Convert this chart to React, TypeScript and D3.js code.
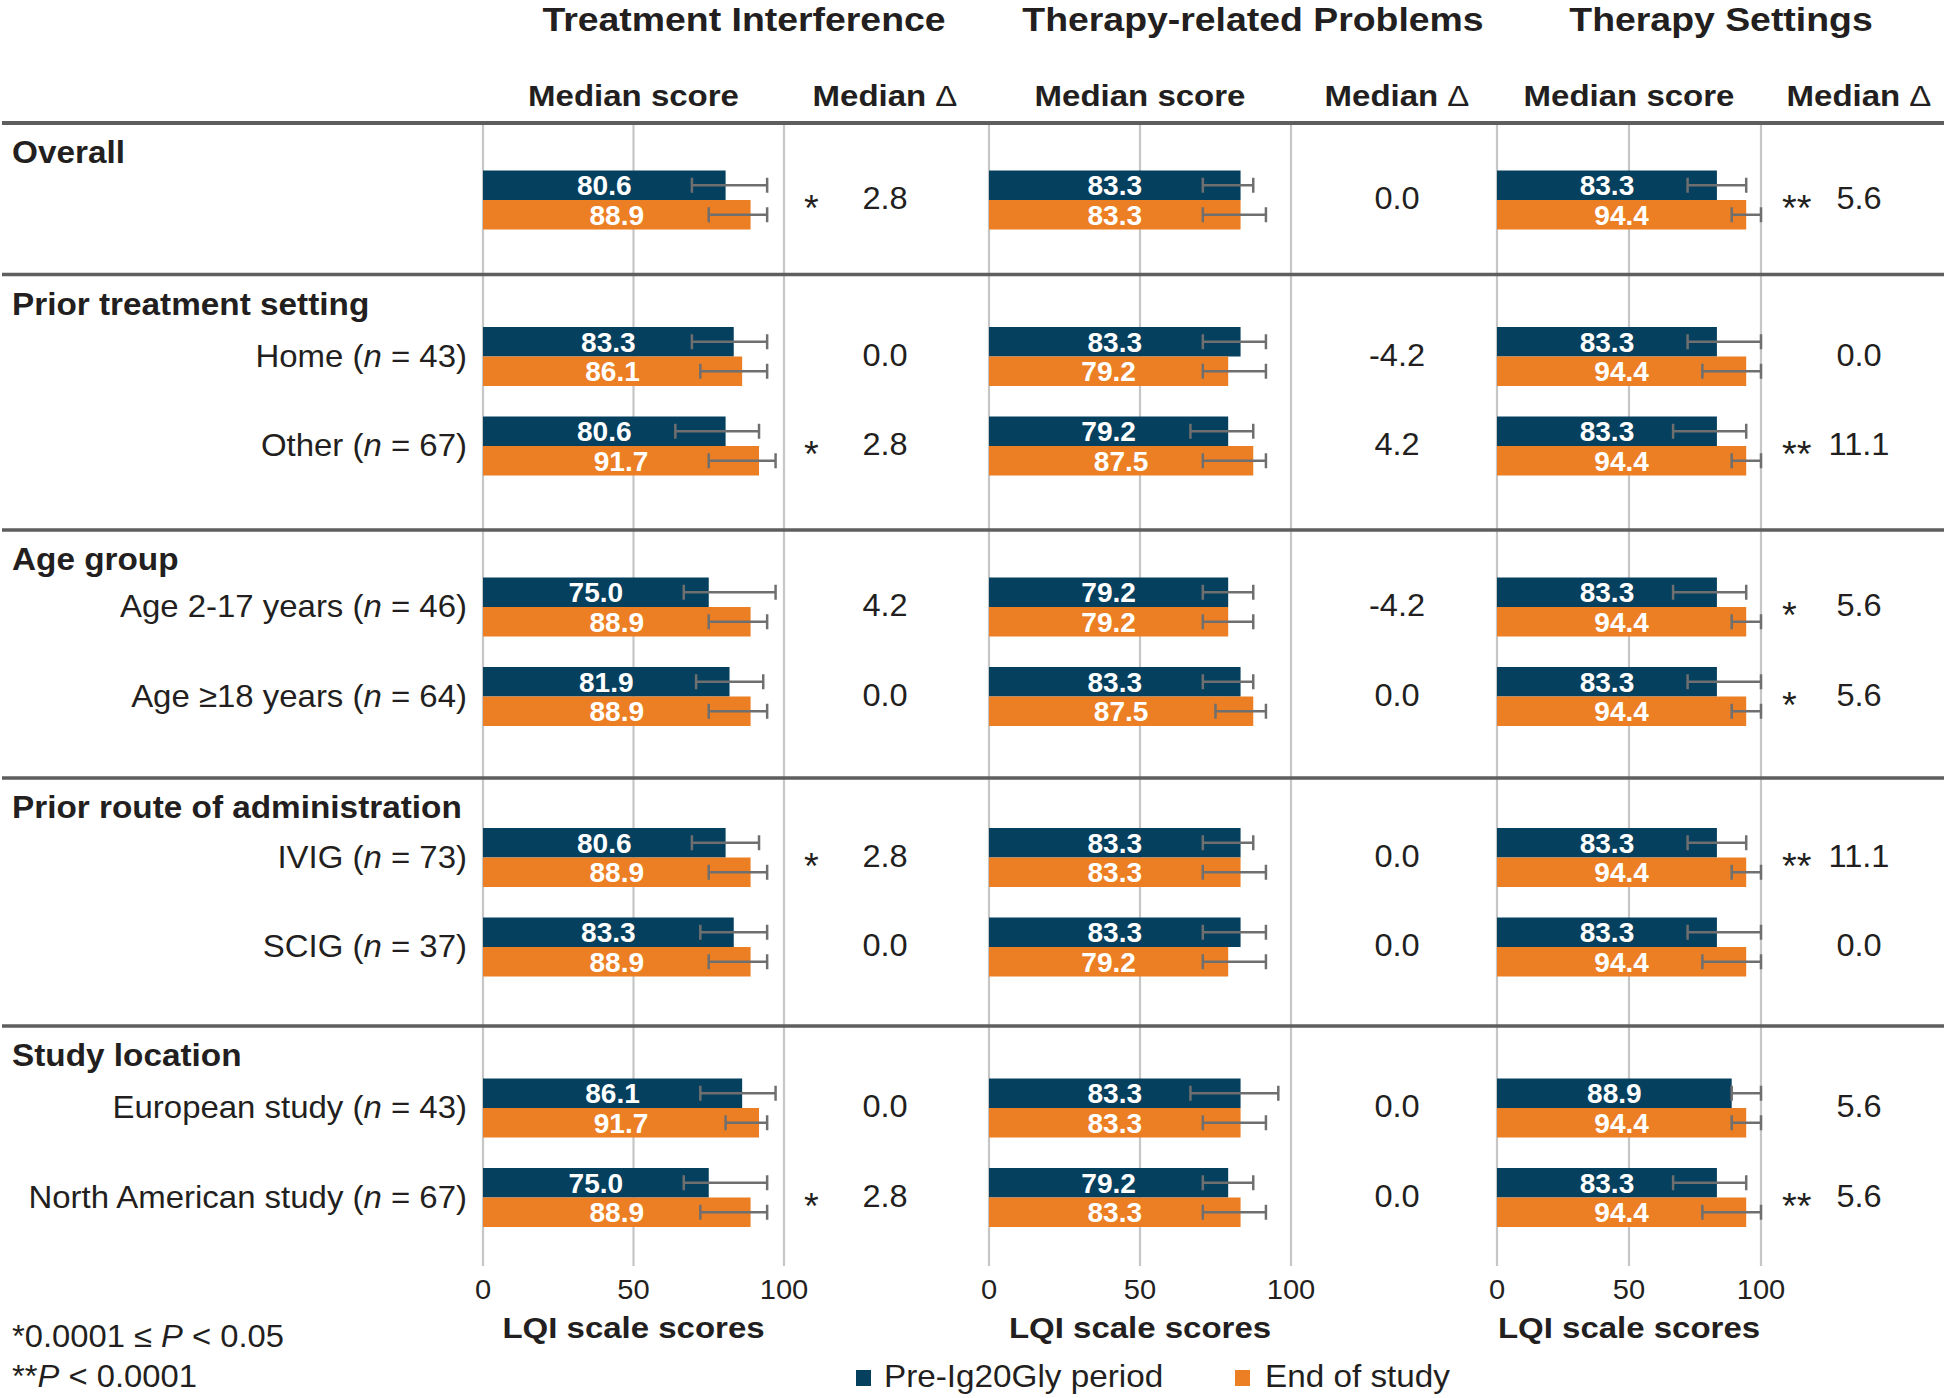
import React from "react";
import * as d3 from "d3";

// ---------- DATA ----------
const panelTitles = ["Treatment Interference", "Therapy-related Problems", "Therapy Settings"];
const groupLabels = ["Overall", "Prior treatment setting", "Age group", "Prior route of administration", "Study location"];
// each row: group index, label text, n
const rowGroup = [0, 1, 1, 2, 2, 3, 3, 4, 4];
const rowLabel = ["", "Home", "Other", "Age 2-17 years", "Age \u226518 years", "IVIG", "SCIG", "European study", "North American study"];
const rowN = [null, 43, 67, 46, 64, 73, 37, 43, 67];
const seriesNames = ["Pre-Ig20Gly period", "End of study"];
const ticks = [0, 50, 100];

// Treatment Interference
const tiPre = [80.6, 83.3, 80.6, 75.0, 81.9, 80.6, 83.3, 86.1, 75.0];
const tiEos = [88.9, 86.1, 91.7, 88.9, 88.9, 88.9, 88.9, 91.7, 88.9];
const tiPreQ1 = [69.4, 69.4, 63.9, 66.7, 70.8, 69.4, 72.2, 72.2, 66.7];
const tiPreQ3 = [94.4, 94.4, 91.7, 97.2, 93.1, 91.7, 94.4, 97.2, 94.4];
const tiEosQ1 = [75.0, 72.2, 75.0, 75.0, 75.0, 75.0, 75.0, 80.6, 72.2];
const tiEosQ3 = [94.4, 94.4, 97.2, 94.4, 94.4, 94.4, 94.4, 94.4, 94.4];
const tiDelta = ["2.8", "0.0", "2.8", "4.2", "0.0", "2.8", "0.0", "0.0", "2.8"];
const tiSig = ["*", "", "*", "", "", "*", "", "", "*"];

// Therapy-related Problems
const trpPre = [83.3, 83.3, 79.2, 79.2, 83.3, 83.3, 83.3, 83.3, 79.2];
const trpEos = [83.3, 79.2, 87.5, 79.2, 87.5, 83.3, 79.2, 83.3, 83.3];
const trpPreQ1 = [70.8, 70.8, 66.7, 70.8, 70.8, 70.8, 70.8, 66.7, 70.8];
const trpPreQ3 = [87.5, 91.7, 87.5, 87.5, 87.5, 87.5, 91.7, 95.8, 87.5];
const trpEosQ1 = [70.8, 70.8, 70.8, 70.8, 75.0, 70.8, 70.8, 70.8, 70.8];
const trpEosQ3 = [91.7, 91.7, 91.7, 87.5, 91.7, 91.7, 91.7, 91.7, 91.7];
const trpDelta = ["0.0", "-4.2", "4.2", "-4.2", "0.0", "0.0", "0.0", "0.0", "0.0"];
const trpSig = ["", "", "", "", "", "", "", "", ""];

// Therapy Settings
const tsPre = [83.3, 83.3, 83.3, 83.3, 83.3, 83.3, 83.3, 88.9, 83.3];
const tsEos = [94.4, 94.4, 94.4, 94.4, 94.4, 94.4, 94.4, 94.4, 94.4];
const tsPreQ1 = [72.2, 72.2, 66.7, 66.7, 72.2, 72.2, 72.2, 88.9, 66.7];
const tsPreQ3 = [94.4, 100, 94.4, 94.4, 100, 94.4, 100, 100, 94.4];
const tsEosQ1 = [88.9, 77.8, 88.9, 88.9, 88.9, 88.9, 77.8, 88.9, 77.8];
const tsEosQ3 = [100, 100, 100, 100, 100, 100, 100, 100, 100];
const tsDelta = ["5.6", "0.0", "11.1", "5.6", "5.6", "11.1", "0.0", "5.6", "5.6"];
const tsSig = ["**", "", "**", "*", "*", "**", "", "", "**"];

const panelData = [
  { pre: tiPre, eos: tiEos, preQ1: tiPreQ1, preQ3: tiPreQ3, eosQ1: tiEosQ1, eosQ3: tiEosQ3, delta: tiDelta, sig: tiSig },
  { pre: trpPre, eos: trpEos, preQ1: trpPreQ1, preQ3: trpPreQ3, eosQ1: trpEosQ1, eosQ3: trpEosQ3, delta: trpDelta, sig: trpSig },
  { pre: tsPre, eos: tsEos, preQ1: tsPreQ1, preQ3: tsPreQ3, eosQ1: tsEosQ1, eosQ3: tsEosQ3, delta: tsDelta, sig: tsSig },
];

// ---------- LAYOUT / STYLE ----------
const W = 1946;
const H = 1398;
const BLUE = "#05405f";
const ORANGE = "#ec7f24";
const TEXT = "#231f20";
const ERR = "#6f6f6f";
const GRID = "#c6c6c6";
const DIV = "#5e5e5e";
const FONT = "'Liberation Sans', Arial, Helvetica, sans-serif";

const panelLayout = [
  { x0: 483, x1: 784, deltaX: 885, starX: 804, titleX: 744 },
  { x0: 989, x1: 1291, deltaX: 1397, starX: 1320, titleX: 1253 },
  { x0: 1497, x1: 1761, deltaX: 1859, starX: 1782, titleX: 1721 },
];
const sectionTops = [123, 274.5, 530, 778, 1026];
const sectionFirstOffset = [77, 82, 77, 79.5, 82];
const rowSpacing = 89.5;
const gridTop = 123;
const gridBottom = 1266;
const barH = 29.5;

function rowCenter(i: number) {
  const g = rowGroup[i];
  const firstIdx = rowGroup.indexOf(g);
  return sectionTops[g] + sectionFirstOffset[g] + (i - firstIdx) * rowSpacing;
}

type TProps = {
  x: number; y: number; anchor?: string; size: number; weight?: string | number;
  sx?: number; fill?: string; children?: React.ReactNode;
};
function T({ x, y, anchor = "start", size, weight = "normal", sx = 1.05, fill = TEXT, children }: TProps) {
  return (
    <text
      transform={`translate(${x},${y}) scale(${sx},1)`}
      textAnchor={anchor as any}
      fontSize={size}
      fontWeight={weight as any}
      fontFamily={FONT}
      fill={fill}
    >
      {children}
    </text>
  );
}

function ErrorBar({ x1, x2, y }: { x1: number; x2: number; y: number }) {
  const c = 7.5;
  return (
    <g stroke={ERR} strokeWidth={2.5} fill="none">
      <line x1={x1} x2={x2} y1={y} y2={y} />
      <line x1={x1} x2={x1} y1={y - c} y2={y + c} />
      <line x1={x2} x2={x2} y1={y - c} y2={y + c} />
    </g>
  );
}

export default function App() {
  const scales = panelLayout.map((p) => d3.scaleLinear().domain([0, 100]).range([p.x0, p.x1]));

  return (
    <svg
      width={W}
      height={H}
      viewBox={`0 0 ${W} ${H}`}
      style={{ position: "absolute", left: 0, top: 0, display: "block", background: "#fff" }}
    >
      <rect x={0} y={0} width={W} height={H} fill="#fff" />

      {/* gridlines */}
      {scales.map((x, pi) =>
        ticks.map((t) => (
          <line key={`g${pi}-${t}`} x1={x(t)} x2={x(t)} y1={gridTop} y2={gridBottom} stroke={GRID} strokeWidth={2.2} />
        ))
      )}

      {/* section dividers */}
      {sectionTops.map((y, i) => (
        <line key={`d${i}`} x1={2} x2={1944} y1={y} y2={y} stroke={DIV} strokeWidth={i === 0 ? 4 : 3.5} />
      ))}

      {/* titles and sub headers */}
      {panelLayout.map((p, pi) => (
        <g key={`h${pi}`}>
          <T x={p.titleX} y={31} anchor="middle" size={34} weight="bold" sx={1.1}>
            {panelTitles[pi]}
          </T>
          <T x={(p.x0 + p.x1) / 2} y={106} anchor="middle" size={30} weight="bold" sx={1.1}>
            Median score
          </T>
          <T x={p.deltaX} y={106} anchor="middle" size={30} weight="bold" sx={1.1}>
            Median <tspan fontWeight="normal">{"\u0394"}</tspan>
          </T>
        </g>
      ))}

      {/* group labels */}
      {groupLabels.map((g, gi) => (
        <T key={`gl${gi}`} x={12} y={sectionTops[gi] + 40} size={31} weight="bold" sx={1.075}>
          {g}
        </T>
      ))}

      {/* row labels */}
      {rowLabel.map((lab, i) =>
        lab ? (
          <T key={`rl${i}`} x={467} y={rowCenter(i) + 10} anchor="end" size={32} sx={1.03}>
            {lab} (<tspan fontStyle="italic">n</tspan> = {rowN[i]})
          </T>
        ) : null
      )}

      {/* bars */}
      {panelData.map((pd, pi) => {
        const x = scales[pi];
        const p = panelLayout[pi];
        return (
          <g key={`p${pi}`}>
            {pd.pre.map((v, i) => {
              const c = rowCenter(i);
              const e = pd.eos[i];
              const yb = c - barH;
              const yo = c;
              return (
                <g key={`r${i}`}>
                  <rect x={x(0)} y={yb} width={x(v) - x(0)} height={barH} fill={BLUE} />
                  <rect x={x(0)} y={yo} width={x(e) - x(0)} height={barH} fill={ORANGE} />
                  <ErrorBar x1={x(pd.preQ1[i])} x2={x(pd.preQ3[i])} y={yb + barH / 2} />
                  <ErrorBar x1={x(pd.eosQ1[i])} x2={x(pd.eosQ3[i])} y={yo + barH / 2} />
                  <T x={(x(0) + x(v)) / 2} y={yb + barH / 2 + 10} anchor="middle" size={27} weight="bold" sx={1.04} fill="#fff">
                    {v.toFixed(1)}
                  </T>
                  <T x={(x(0) + x(e)) / 2} y={yo + barH / 2 + 10} anchor="middle" size={27} weight="bold" sx={1.04} fill="#fff">
                    {e.toFixed(1)}
                  </T>
                  {pd.sig[i] ? (
                    <T x={p.starX} y={c + 21} size={36} sx={1.05}>
                      {pd.sig[i]}
                    </T>
                  ) : null}
                  <T x={p.deltaX} y={c + 9} anchor="middle" size={31} sx={1.05}>
                    {pd.delta[i]}
                  </T>
                </g>
              );
            })}
          </g>
        );
      })}

      {/* axis ticks and titles */}
      {scales.map((x, pi) => (
        <g key={`ax${pi}`}>
          {ticks.map((t) => (
            <T key={t} x={x(t)} y={1299} anchor="middle" size={28} sx={1.04}>
              {String(t)}
            </T>
          ))}
          <T x={(panelLayout[pi].x0 + panelLayout[pi].x1) / 2} y={1338} anchor="middle" size={30} weight="bold" sx={1.1}>
            LQI scale scores
          </T>
        </g>
      ))}

      {/* footnotes */}
      <T x={12} y={1347} size={31.5} sx={1.04}>
        *0.0001 {"\u2264"} <tspan fontStyle="italic">P</tspan> {"<"} 0.05
      </T>
      <T x={12} y={1387} size={31.5} sx={1.04}>
        **<tspan fontStyle="italic">P</tspan> {"<"} 0.0001
      </T>

      {/* legend */}
      <rect x={856} y={1370} width={15} height={16} fill={BLUE} />
      <T x={884} y={1387} size={32} sx={1.04}>
        {seriesNames[0]}
      </T>
      <rect x={1235} y={1370} width={15} height={16} fill={ORANGE} />
      <T x={1265} y={1387} size={32} sx={1.04}>
        {seriesNames[1]}
      </T>
    </svg>
  );
}
